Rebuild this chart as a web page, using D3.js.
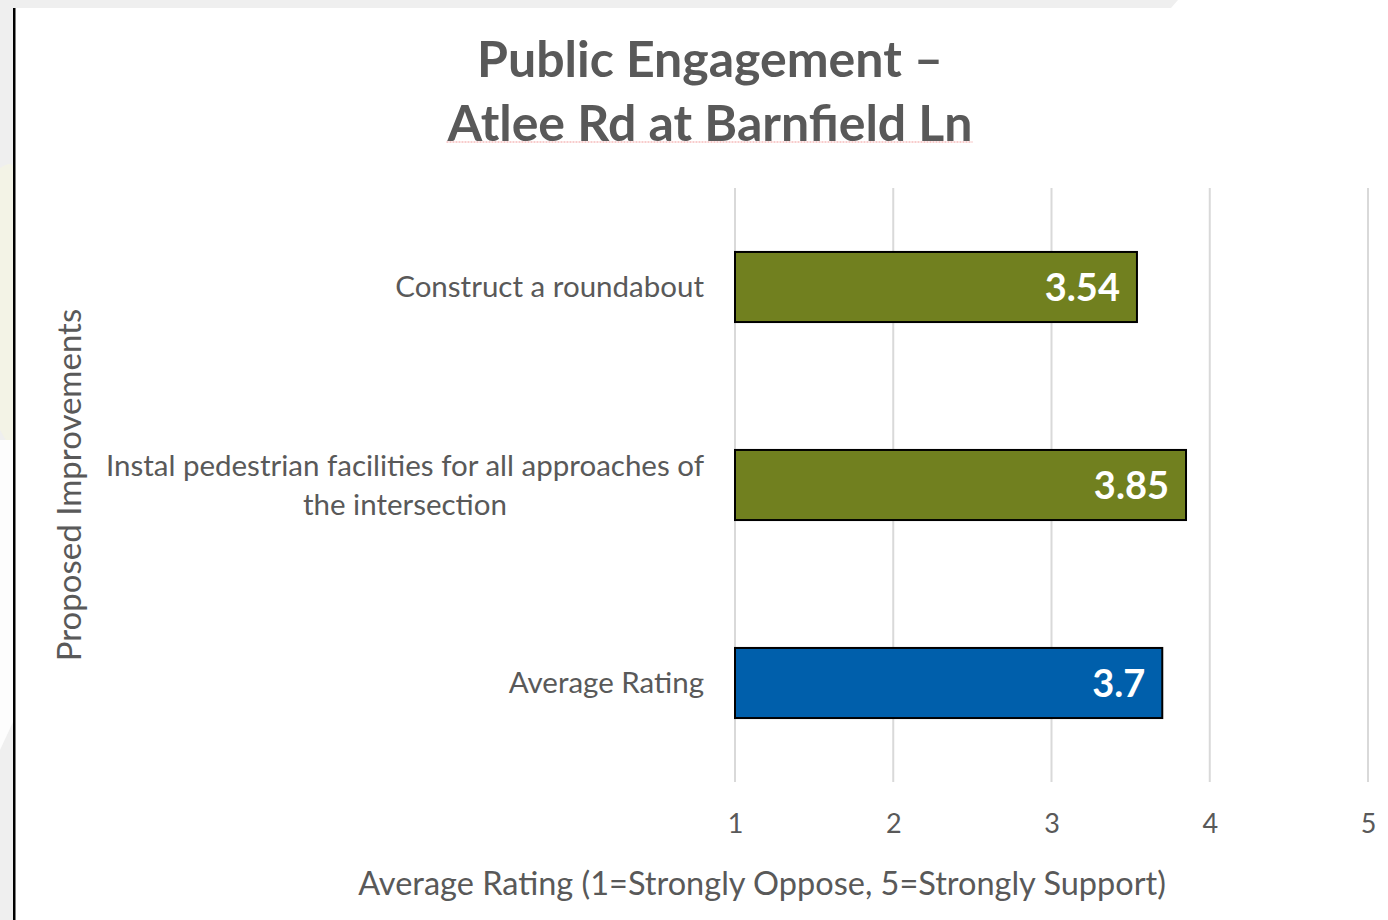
<html>
<head>
    <meta charset="UTF-8">
    <title>Public Engagement</title>
    <style>
        body { margin: 0; background: #fff; }
        svg text { font-family: Lato, "Open Sans", sans-serif; }
    </style>
</head>
<body>
<script src="https://d3js.org/d3.v7.min.js"></script>
<div id="chart"></div>

<script>
    // data
    var categories = ["Construct a roundabout",
                      "Instal pedestrian facilities for all approaches of the intersection",
                      "Average Rating"];
    var values = [3.54, 3.85, 3.7];
    var barColors = ["#71801f", "#71801f", "#005fab"];
    var tickValues = [1, 2, 3, 4, 5];
    var titleLines = ["Public Engagement \u2013", "Atlee Rd at Barnfield Ln"];
    var xTitle = "Average Rating (1=Strongly Oppose, 5=Strongly Support)";
    var yTitle = "Proposed Improvements";

    var W = 1388, H = 920,
        plot = {left: 735, right: 1368, top: 188, bottom: 782},
        textColor = "#595959";

    var svg = d3.select("#chart").append("svg")
        .attr("width", W).attr("height", H);

    // slide frame bits: grey strip top and left, black rule
    svg.append("path")
        .attr("d", "M0,0 L1178,0 L1171,8 L15,8 L15," + H + " L0," + H + " Z")
        .attr("fill", "#efefef");
    svg.append("path")
        .attr("d", "M0,168 Q13,160 13,168 L13,450 Q5,440 0,430 Z")
        .attr("fill", "#f3f3e6");
    svg.append("path")
        .attr("d", "M0,440 L13,440 L13,722 L0,750 Z")
        .attr("fill", "#fdfdfd");
    svg.append("rect")
        .attr("x", 13).attr("y", 8).attr("width", 2.5).attr("height", H - 8)
        .attr("fill", "#000");

    var x = d3.scaleLinear()
        .domain([1, 5])
        .range([plot.left, plot.right]);

    var y = d3.scaleBand()
        .domain(categories)
        .range([plot.top, plot.bottom])
        .paddingInner(0.646)
        .paddingOuter(0.323);

    // gridlines
    svg.append("g")
        .selectAll("line")
        .data(tickValues)
        .enter().append("line")
        .attr("x1", d => x(d)).attr("x2", d => x(d))
        .attr("y1", plot.top).attr("y2", plot.bottom)
        .attr("stroke", "#d9d9d9")
        .attr("stroke-width", 2);

    // x axis tick labels
    var xAxis = svg.append("g")
        .attr("transform", "translate(0," + plot.bottom + ")")
        .call(d3.axisBottom(x).tickValues(tickValues).tickSize(0).tickPadding(32).tickFormat(d3.format("d")));
    xAxis.select(".domain").remove();
    xAxis.selectAll("text")
        .attr("fill", textColor)
        .style("font-size", "27px");

    // bars
    svg.append("g")
        .selectAll("rect")
        .data(values)
        .enter().append("rect")
        .attr("x", x(1))
        .attr("y", (d, i) => y(categories[i]))
        .attr("width", d => x(d) - x(1))
        .attr("height", y.bandwidth())
        .attr("fill", (d, i) => barColors[i])
        .attr("stroke", "#000")
        .attr("stroke-width", 2);

    // value labels inside bar ends
    svg.append("g")
        .selectAll("text")
        .data(values)
        .enter().append("text")
        .attr("x", d => x(d) - 17)
        .attr("y", (d, i) => y(categories[i]) + y.bandwidth() / 2)
        .attr("dy", "0.36em")
        .attr("text-anchor", "end")
        .attr("fill", "#fff")
        .style("font-size", "38px")
        .style("font-weight", "bold")
        .text(d => d);

    // category labels, wrapped and right-aligned as a block
    var labelRight = 704, maxWidth = 615, lineHeight = 39;
    categories.forEach(function(c) {
        var t = svg.append("text")
            .attr("fill", textColor)
            .attr("text-anchor", "middle")
            .style("font-size", "29.5px");
        var words = c.split(" "), lines = [], line = [];
        var probe = t.append("tspan");
        words.forEach(function(w) {
            line.push(w);
            probe.text(line.join(" "));
            if (probe.node().getComputedTextLength() > maxWidth && line.length > 1) {
                line.pop();
                lines.push(line.join(" "));
                line = [w];
            }
        });
        lines.push(line.join(" "));
        probe.remove();
        var widest = 0;
        var spans = lines.map(function(l) {
            var s = t.append("tspan").text(l);
            widest = Math.max(widest, s.node().getComputedTextLength());
            return s;
        });
        var cy = y(c) + y.bandwidth() / 2;
        spans.forEach(function(s, i) {
            s.attr("x", labelRight - widest / 2)
             .attr("y", cy + (i - (lines.length - 1) / 2) * lineHeight)
             .attr("dy", "0.35em");
        });
    });

    // axis titles
    svg.append("text")
        .attr("x", (357 + 1167) / 2)
        .attr("y", 895)
        .attr("text-anchor", "middle")
        .attr("fill", textColor)
        .style("font-size", "32.5px")
        .text(xTitle);

    svg.append("text")
        .attr("transform", "translate(81," + 485 + ") rotate(-90)")
        .attr("text-anchor", "middle")
        .attr("fill", textColor)
        .style("font-size", "33px")
        .text(yTitle);

    // title
    var title = svg.append("g");
    titleLines.forEach(function(l, i) {
        title.append("text")
            .attr("x", 710)
            .attr("y", 77 + i * 64)
            .attr("text-anchor", "middle")
            .attr("fill", textColor)
            .style("font-size", "50px")
            .style("font-weight", "bold")
            .text(l);
    });
    var t2 = title.selectAll("text").nodes()[1].getBBox();
    title.append("line")
        .attr("x1", t2.x).attr("x2", t2.x + t2.width)
        .attr("y1", 142).attr("y2", 142)
        .attr("stroke", "#f19a9a")
        .attr("stroke-width", 1.2)
        .attr("stroke-dasharray", "2,1");
</script>
</body>
</html>
